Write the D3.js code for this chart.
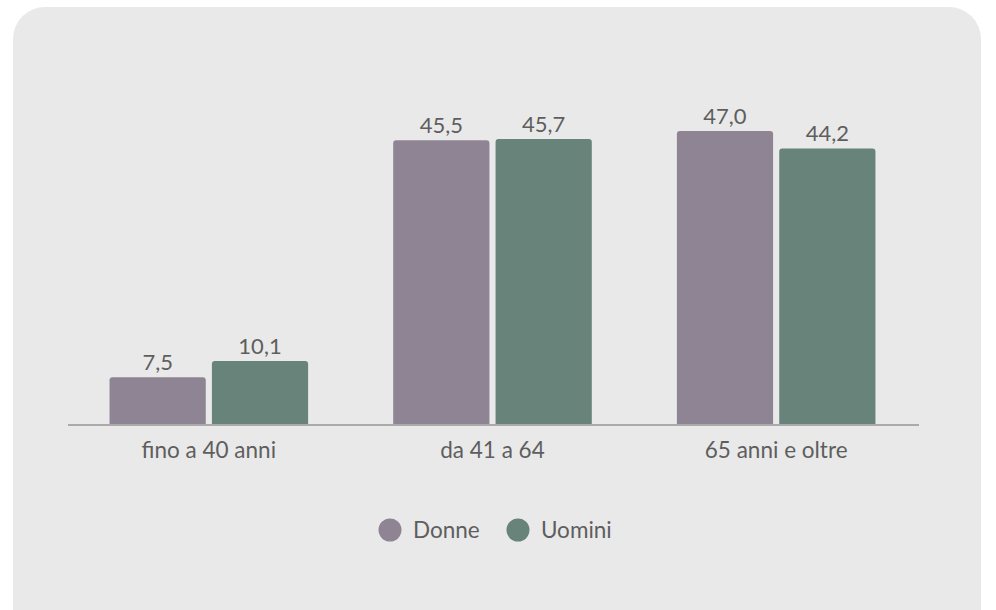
<!DOCTYPE html>
<html>
<head>
<meta charset="utf-8">
<script src="https://cdn.jsdelivr.net/npm/d3@7"></script>
<style>
  body { margin: 0; background: #fff; }
  svg text { font-family: Lato, "Open Sans", sans-serif; fill: #5e5e5e; }
</style>
</head>
<body>
<div id="chart"></div>
<script>
  var categories = ["fino a 40 anni", "da 41 a 64", "65 anni e oltre"];
  var seriesNames = ["Donne", "Uomini"];
  var donne = [7.5, 45.5, 47.0];
  var uomini = [10.1, 45.7, 44.2];
  var colors = ["#8f8494", "#688379"];

  var W = 996, H = 610;
  var x0 = 68, x1 = 919, baseY = 424;

  var svg = d3.select("#chart").append("svg")
    .attr("width", W).attr("height", H);

  // card background
  svg.append("rect")
    .attr("x", 13).attr("y", 7)
    .attr("width", 968).attr("height", 640)
    .attr("rx", 32).attr("ry", 32)
    .attr("fill", "#e9e9e9");

  var xScale = d3.scaleBand().domain(categories)
    .range([x0, x1]).paddingInner(0.3).paddingOuter(0.15);
  var xSub = d3.scaleBand().domain(seriesNames)
    .range([0, xScale.bandwidth()]).paddingInner(0.06);
  var yScale = d3.scaleLinear().domain([0, 47]).range([baseY, 131]);

  var rows = categories.map(function(c, i) {
    return { cat: c, vals: [
      { name: "Donne", v: donne[i] },
      { name: "Uomini", v: uomini[i] }
    ]};
  });

  function barPath(x, y, w, h, r) {
    return "M" + x + "," + (y + h) +
      "V" + (y + r) + "Q" + x + "," + y + " " + (x + r) + "," + y +
      "H" + (x + w - r) + "Q" + (x + w) + "," + y + " " + (x + w) + "," + (y + r) +
      "V" + (y + h) + "Z";
  }

  var groups = svg.selectAll("g.grp").data(rows).enter().append("g")
    .attr("class", "grp")
    .attr("transform", function(d) { return "translate(" + (xScale(d.cat) - 1) + ",0)"; });

  groups.selectAll("path").data(function(d) { return d.vals; }).enter().append("path")
    .attr("d", function(d) {
      var y = yScale(d.v);
      return barPath(xSub(d.name), y, xSub.bandwidth(), baseY - y, 3);
    })
    .attr("fill", function(d, i) { return colors[i]; });

  groups.selectAll("text").data(function(d) { return d.vals; }).enter().append("text")
    .attr("x", function(d) { return xSub(d.name) + xSub.bandwidth() / 2; })
    .attr("y", function(d) { return yScale(d.v) - 7; })
    .attr("text-anchor", "middle")
    .attr("font-size", 22)
    .text(function(d) { return d3.format(".1f")(d.v).replace(".", ","); });

  // baseline
  svg.append("line")
    .attr("x1", x0).attr("x2", x1)
    .attr("y1", baseY + 1).attr("y2", baseY + 1)
    .attr("stroke", "#aaa").attr("stroke-width", 2);

  // category labels
  svg.selectAll("text.cat").data(categories).enter().append("text")
    .attr("class", "cat")
    .attr("x", function(d) { return xScale(d) - 1 + xScale.bandwidth() / 2; })
    .attr("y", 458)
    .attr("text-anchor", "middle")
    .attr("font-size", 22.5)
    .text(function(d) { return d; });

  // legend
  var legX = [390, 518];
  var leg = svg.selectAll("g.leg").data(seriesNames).enter().append("g")
    .attr("class", "leg")
    .attr("transform", function(d, i) { return "translate(" + legX[i] + ",530)"; });
  leg.append("circle").attr("r", 11.5).attr("fill", function(d, i) { return colors[i]; });
  leg.append("text").attr("x", 23).attr("y", 8)
    .attr("font-size", 22.5)
    .text(function(d) { return d; });
</script>
</body>
</html>
